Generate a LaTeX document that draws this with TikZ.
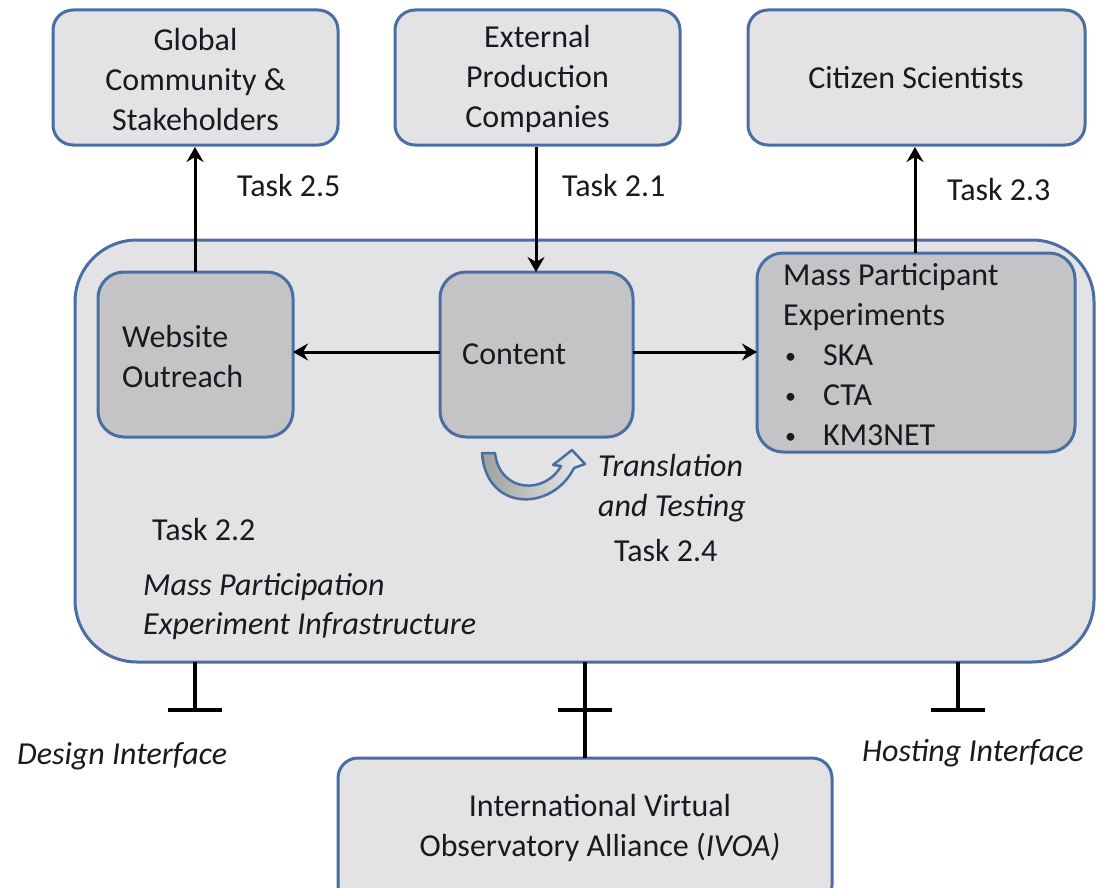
\documentclass[tikz,border=0pt]{standalone}
\usepackage{fontspec}
\setmainfont{Carlito}
\usetikzlibrary{arrows.meta}
\definecolor{bord}{RGB}{74,110,164}
\definecolor{lightfill}{RGB}{227,227,229}
\definecolor{darkfill}{RGB}{196,196,198}
\definecolor{txt}{RGB}{25,25,30}
\tikzset{
  x=1pt, y=-1pt,
  every node/.style={font=\fontsize{32}{40}\selectfont, text=txt, inner sep=0pt},
  outerbox/.style={draw=bord, line width=3pt, fill=lightfill, rounded corners=20pt},
  bigbox/.style={draw=bord, line width=3pt, fill=lightfill, rounded corners=62pt},
  innerbox/.style={draw=bord, line width=3pt, fill=darkfill, rounded corners=26pt},
  conn/.style={line width=3pt, black, -{Stealth[length=15pt,width=17pt,inset=5pt]}},
  tbar/.style={line width=4.5pt, black},
  lbl/.style={anchor=base west},
  itl/.style={anchor=base west, font=\fontsize{32}{40}\selectfont\itshape},
  bul/.style={anchor=base west, font=\fontsize{22}{40}\selectfont},
}
\begin{document}
\begin{tikzpicture}
\clip (0,0) rectangle (1097,888);
\fill[white] (0,0) rectangle (1097,888);

% top boxes
\draw[outerbox] (53,10) rectangle (338,145);
\draw[outerbox] (395,10) rectangle (680,145);
\draw[outerbox] (748,10) rectangle (1085,145);
\coordinate (gcS) at (195,147);
\coordinate (epS) at (536,147);
\coordinate (csS) at (915,147);
\node[align=center] (gc) at (195.5,80) {Global\\Community \&\\Stakeholders};
\node[align=center] (ep) at (537.5,79) {External\\Production\\Companies};
\node (cs) at (916,78) {Citizen Scientists};

% big box
\draw[bigbox] (75,240) rectangle (1094,662);

% inner boxes
\draw[innerbox] (98,272) rectangle (293,437);
\draw[innerbox] (440,272) rectangle (633,437);
\draw[innerbox] (757,253) rectangle (1075,452);
\coordinate (woN) at (195,272);
\coordinate (woE) at (293,352);
\coordinate (coN) at (536,272);
\coordinate (coW) at (440,352);
\coordinate (coE) at (633,352);
\coordinate (mpW) at (757,352);
\coordinate (mpN) at (915,253);

\node[lbl] (wo1) at (122,347) {Website};
\node[lbl] (wo2) at (122,387) {Outreach};
\node[lbl] (co) at (462,364) {Content};
\node[lbl] (mp1) at (783,285) {Mass Participant};
\node[lbl] (mp2) at (783,325) {Experiments};
\node[bul] (b1) at (785,363) {•};
\node[lbl] (ska) at (823,365) {SKA};
\node[bul] (b2) at (785,403) {•};
\node[lbl] (cta) at (823,405) {CTA};
\node[bul] (b3) at (785,443) {•};
\node[lbl] (km) at (823,445) {KM3NET};

% connectors
\draw[conn] (woN) -- (gcS);
\draw[conn] (epS) -- (coN);
\draw[conn] (mpN) -- (csS);
\draw[conn] (coW) -- (woE);
\draw[conn] (coE) -- (mpW);

\node[lbl] (t25) at (237,196) {Task 2.5};
\node[lbl] (t21) at (562,196) {Task 2.1};
\node[lbl] (t23) at (947,200) {Task 2.3};

% curved block arrow
\shade[left color=gray!75, right color=gray!15, draw=bord, line width=2.5pt, line join=round]
  (482,453) -- (495,453) .. controls (500,494) and (546,494) .. (561,466)
  -- (553,465) -- (572,450) -- (585,464) -- (574,468)
  .. controls (552,512) and (486,512) .. (482,453) -- cycle;

\node[itl] (tr1) at (598,476) {Translation};
\node[itl] (tr2) at (598,516) {and Testing};
\node[lbl] (t24) at (614,561) {Task 2.4};
\node[lbl] (t22) at (152,540) {Task 2.2};
\node[itl] (mpi1) at (143,595) {Mass Participation};
\node[itl] (mpi2) at (143,634) {Experiment Infrastructure};

% bottom box
\draw[outerbox] (338,758) rectangle (832,905);
\coordinate (ivN) at (585,758);
\node[align=center] (iv) at (600,828) {International Virtual\\Observatory Alliance (\textit{IVOA)}};

% T interfaces
\coordinate (dTop) at (195,662);
\coordinate (dBar) at (195,710);
\coordinate (hTop) at (958,662);
\coordinate (hBar) at (958,710);
\coordinate (mTop) at (585,662);
\coordinate (mBar) at (585,710);
\draw[tbar] (dTop) -- (dBar);
\draw[tbar] ([xshift=-27pt]dBar) -- ([xshift=27pt]dBar);
\draw[tbar] (hTop) -- (hBar);
\draw[tbar] ([xshift=-27pt]hBar) -- ([xshift=27pt]hBar);
\draw[tbar, line width=3.5pt] (mTop) -- (ivN);
\draw[tbar] ([xshift=-27pt]mBar) -- ([xshift=27pt]mBar);

\node[itl] (di) at (17,764) {Design Interface};
\node[itl] (hi) at (862,761) {Hosting Interface};
\end{tikzpicture}
\end{document}
